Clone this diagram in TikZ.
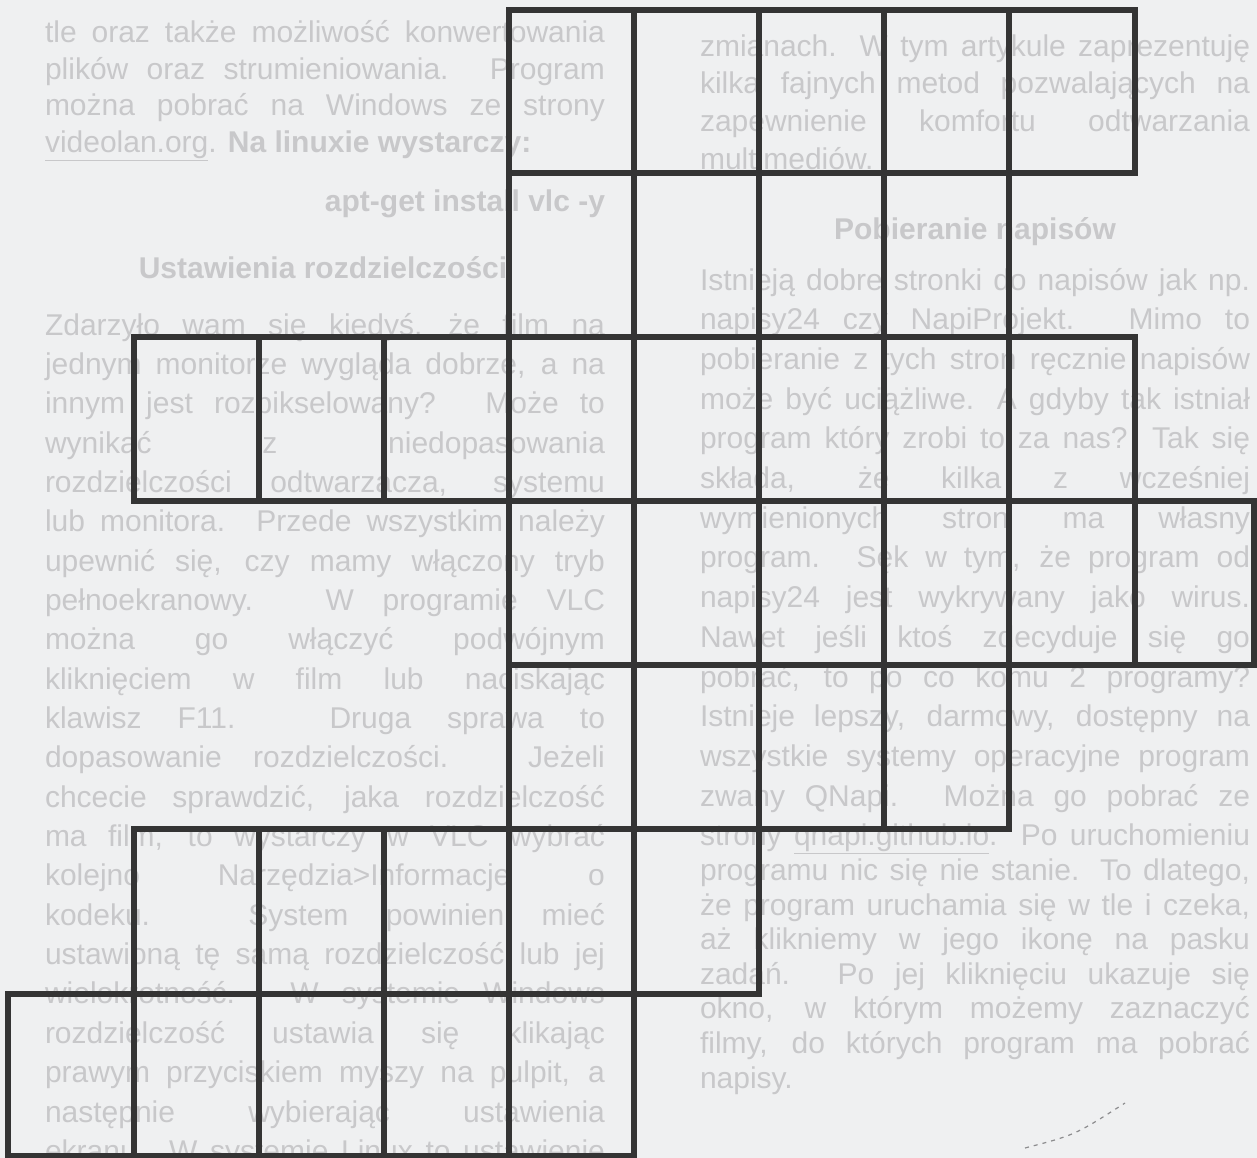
\documentclass[tikz,border=0pt]{standalone}
\usepackage{fontspec}
\setmainfont{Liberation Sans}
\definecolor{page}{RGB}{239,240,241}
\definecolor{ink}{RGB}{52,52,52}
\definecolor{ghost}{RGB}{200,200,202}
\def\xs{{8,134,259,384,509,634,759,884,1009,1135,1254}}
\def\ys{{10,173,337,501,665,829,994,1156}}
\begin{document}
\begin{tikzpicture}[x=1pt,y=-1pt,
  gridcell/.style={draw=ink,line width=6.5pt},
  ghosttext/.style={inner sep=0pt,outer sep=0pt,text=ghost,font=\fontsize{30}{36}\selectfont},
  bodyline/.style={ghosttext,anchor=base west},
  headline/.style={ghosttext,font=\bfseries\fontsize{30}{36}\selectfont,anchor=base}]
\useasboundingbox (0,0) rectangle (1257,1158);
\fill[page] (0,0) rectangle (1257,1158);
\clip (0,0) rectangle (1257,1158);

% ---------- faded page text: left column ----------
\node[bodyline] (lt0) at (45,43) {\makebox[560pt][s]{tle oraz także możliwość konwertowania}};
\node[bodyline] (lt1) at (45,80) {\makebox[560pt][s]{plików oraz strumieniowania. Program}};
\node[bodyline] (lt2) at (45,116) {\makebox[560pt][s]{można pobrać na Windows ze strony}};
\node[bodyline] (lt3) at (45,153) {\underline{videolan.org}. \textbf{Na linuxie wystarczy:}};
\node[headline,anchor=base east] (apt) at (605,212) {apt-get install vlc -y};
\node[headline] (hleft) at (323,278) {Ustawienia rozdzielczości};
\foreach \t [count=\k from 0] in {
  {Zdarzyło wam się kiedyś, że film na},
  {jednym monitorze wygląda dobrze, a na},
  {innym jest rozpikselowany? Może to},
  {wynikać z niedopasowania},
  {rozdzielczości odtwarzacza, systemu},
  {lub monitora. Przede wszystkim należy},
  {upewnić się, czy mamy włączony tryb},
  {pełnoekranowy. W programie VLC},
  {można go włączyć podwójnym},
  {kliknięciem w film lub naciskając},
  {klawisz F11. Druga sprawa to},
  {dopasowanie rozdzielczości. Jeżeli},
  {chcecie sprawdzić, jaka rozdzielczość},
  {ma film, to wystarczy w VLC wybrać},
  {kolejno Narzędzia>Informacje o},
  {kodeku. System powinien mieć},
  {ustawioną tę samą rozdzielczość lub jej},
  {wielokrotność. W systemie Windows},
  {rozdzielczość ustawia się klikając},
  {prawym przyciskiem myszy na pulpit, a},
  {następnie wybierając ustawienia},
  {ekranu. W systemie Linux to ustawienie}}
  {\node[bodyline] (L\k) at (45,{335+39.35*\k}) {\makebox[560pt][s]{\t}};}

% ---------- faded page text: right column ----------
\node[bodyline] (rt1) at (700,57) {\makebox[550pt][s]{zmianach. W tym artykule zaprezentuję}};
\node[bodyline] (rt2) at (700,94) {\makebox[550pt][s]{kilka fajnych metod pozwalających na}};
\node[bodyline] (rt3) at (700,132) {\makebox[550pt][s]{zapewnienie komfortu odtwarzania}};
\node[bodyline] (rt4) at (700,170) {multimediów.};
\node[headline] (hright) at (975,240) {Pobieranie napisów};
\foreach \t [count=\k from 0] in {
  {Istnieją dobre stronki do napisów jak np.},
  {napisy24 czy NapiProjekt. Mimo to},
  {pobieranie z tych stron ręcznie napisów},
  {może być uciążliwe. A gdyby tak istniał},
  {program który zrobi to za nas? Tak się},
  {składa, że kilka z wcześniej},
  {wymienionych stron ma własny},
  {program. Sęk w tym, że program od},
  {napisy24 jest wykrywany jako wirus.},
  {Nawet jeśli ktoś zdecyduje się go},
  {pobrać, to po co komu 2 programy?},
  {Istnieje lepszy, darmowy, dostępny na},
  {wszystkie systemy operacyjne program},
  {zwany QNapi. Można go pobrać ze},
  {strony \underline{qnapi.github.io}. Po uruchomieniu}}
  {\node[bodyline] (R\k) at (700,{290+39.7*\k}) {\makebox[550pt][s]{\t}};}
\foreach \t [count=\k from 15] in {
  {programu nic się nie stanie. To dlatego,},
  {że program uruchamia się w tle i czeka,},
  {aż klikniemy w jego ikonę na pasku},
  {zadań. Po jej kliknięciu ukazuje się},
  {okno, w którym możemy zaznaczyć},
  {filmy, do których program ma pobrać}}
  {\node[bodyline] (R\k) at (700,{846+34.5*(\k-14)}) {\makebox[550pt][s]{\t}};}
\node[bodyline] (R21) at (700,1088) {napisy.};

% faint scan mark
\draw[ghost!70!black,line width=1.2pt,dash pattern=on 4pt off 5pt]
  (1025,1148) .. controls (1075,1135) .. (1125,1103);

% ---------- staircase grid of boxes ----------
\foreach \r/\a/\l in {0/4/8, 1/4/7, 2/1/8, 3/4/9, 4/4/7, 5/1/5, 6/0/4}{
  \foreach \c in {\a,...,\l}{
    \pgfmathsetmacro\xl{\xs[\c]}
    \pgfmathsetmacro\xr{\xs[\c+1]}
    \pgfmathsetmacro\yt{\ys[\r]}
    \pgfmathsetmacro\yb{\ys[\r+1]}
    \draw[gridcell] (\xl,\yt) rectangle (\xr,\yb);
  }
}
\end{tikzpicture}
\end{document}
